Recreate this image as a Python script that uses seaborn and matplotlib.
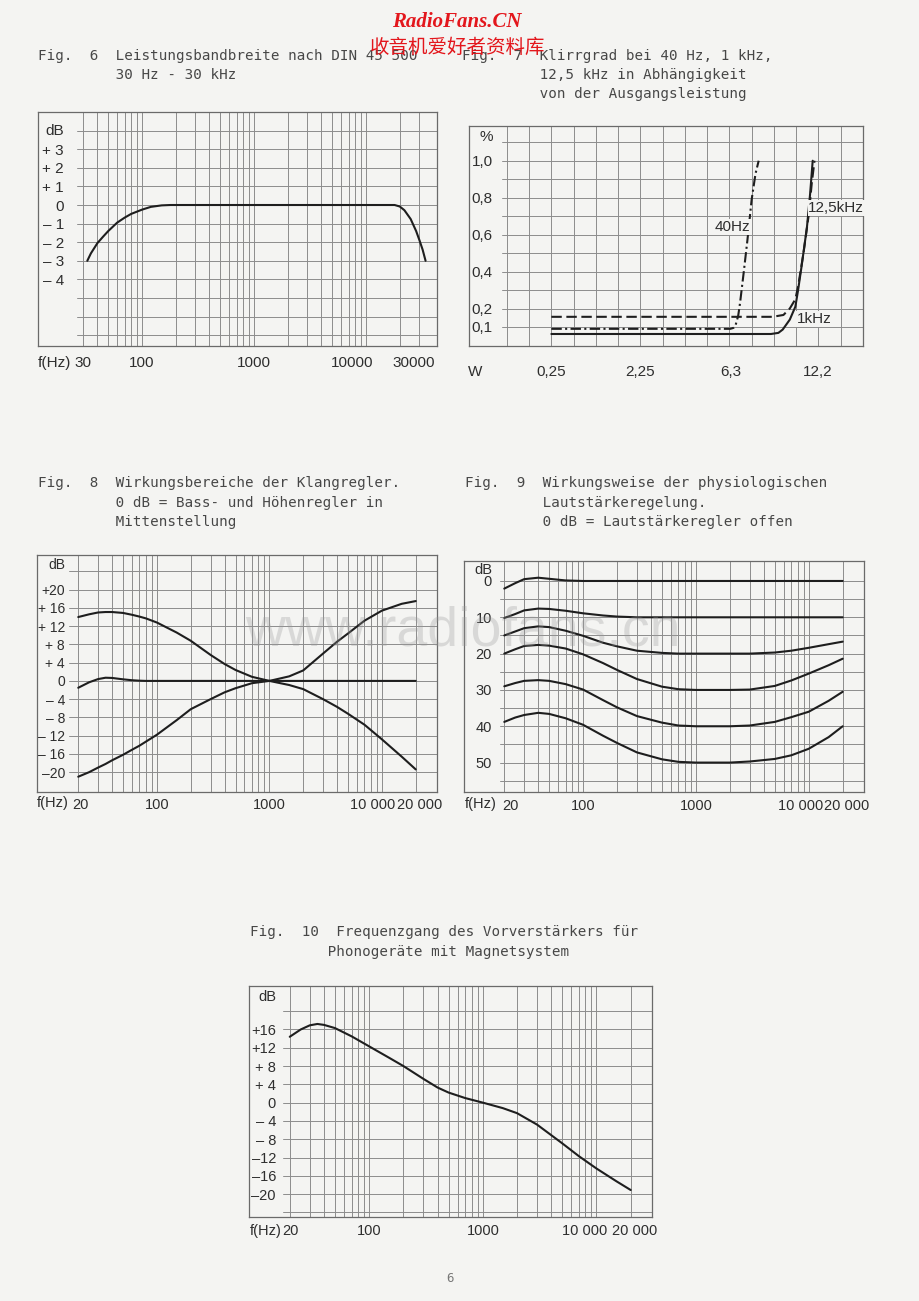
import numpy as np
import pandas as pd
import matplotlib
matplotlib.use("Agg")
import matplotlib.pyplot as plt
import matplotlib.transforms as mtrans
from matplotlib.ticker import NullLocator
import seaborn as sns

sns.set_style("white")
plt.rcParams['font.family'] = ['Liberation Sans', 'DejaVu Sans']

# ------------------------------------------------------------------ data
# Fig. 6 – power bandwidth
f6_hz = [32.5, 35, 40, 45, 50, 60, 70, 80, 100, 120, 150, 180, 1000, 10000,
         18000, 20000, 22000, 25000, 28000, 30000, 32000, 34000]
f6_db = [-3.0, -2.6, -2.05, -1.7, -1.4, -0.95, -0.68, -0.48, -0.25, -0.1, -0.02, 0.0, 0.0, 0.0,
         0.0, -0.08, -0.28, -0.75, -1.4, -1.9, -2.4, -3.0]

# Fig. 7 – distortion vs output power (W, %)
f7_w_1k = [0.25, 8.8, 9.3, 9.6, 10.1, 10.5, 10.7, 10.96, 11.36, 11.6, 11.8]
f7_thd_1k = [0.062, 0.062, 0.068, 0.086, 0.14, 0.21, 0.30, 0.43, 0.64, 0.82, 1.0]
f7_w_12k = [0.25, 8.9, 9.65, 10.1, 10.5, 10.7, 11.1, 11.5, 11.73, 11.94]
f7_thd_12k = [0.155, 0.155, 0.165, 0.20, 0.25, 0.32, 0.50, 0.71, 0.88, 1.0]
f7_w_40 = [0.25, 6.3, 6.48, 6.6, 6.75, 6.86, 7.07, 7.3, 7.56, 7.8, 8.0]
f7_thd_40 = [0.09, 0.09, 0.095, 0.11, 0.16, 0.23, 0.39, 0.57, 0.79, 0.93, 1.0]
f7_xticks_w = [0.25, 2.25, 6.3, 12.2]
f7_xlabels = ["0,25", "2,25", "6,3", "12,2"]
f7_yticks = [0.1, 0.2, 0.4, 0.6, 0.8, 1.0]
f7_ylabels = ["0,1", "0,2", "0,4", "0,6", "0,8", "1,0"]

# Fig. 8 – tone control range
f8_hz = [20, 25, 30, 35, 40, 50, 60, 70, 80, 100, 150, 200, 300, 400, 500, 700,
         1000, 1500, 2000, 3000, 4000, 5000, 7000, 10000, 15000, 20000]
f8_boost_cut = [14.0, 14.6, 15.0, 15.1, 15.1, 14.9, 14.5, 14.1, 13.7, 12.8, 10.6, 8.8, 5.7, 3.7, 2.4, 0.9,
                0.0, -0.9, -1.8, -4.0, -5.7, -7.2, -9.6, -12.8, -16.6, -19.4]
f8_cut_boost = [-21.0, -20.0, -19.0, -18.2, -17.4, -16.2, -15.1, -14.2, -13.3, -11.8, -8.6, -6.2, -4.0, -2.5, -1.6, -0.5,
                0.0, 1.0, 2.3, 6.0, 8.6, 10.4, 13.2, 15.4, 16.9, 17.5]
f8_flat = [-1.5, -0.3, 0.4, 0.7, 0.65, 0.35, 0.15, 0.05, 0.0, 0.0, 0.0, 0.0, 0.0, 0.0, 0.0, 0.0,
           0.0, 0.0, 0.0, 0.0, 0.0, 0.0, 0.0, 0.0, 0.0, 0.0]

# Fig. 9 – loudness contour (attenuation in dB)
f9_hz = [20, 25, 30, 40, 50, 70, 100, 150, 200, 300, 500, 700, 1000, 2000, 3000, 5000, 7000, 10000, 15000, 20000]
f9_c0 = [2.1, 0.6, -0.5, -0.9, -0.6, -0.15, 0, 0, 0, 0, 0, 0, 0, 0, 0, 0, 0, 0, 0, 0]
f9_c10 = [10.2, 9.1, 8.1, 7.6, 7.7, 8.2, 8.9, 9.5, 9.8, 10, 10, 10, 10, 10, 10, 10, 10, 10, 10, 10]
f9_c20 = [15, 13.9, 13, 12.5, 12.7, 13.7, 15.1, 17.0, 18.0, 19.2, 19.8, 20, 20, 20, 20, 19.7, 19.2, 18.4, 17.4, 16.7]
f9_c30 = [20, 18.8, 17.9, 17.6, 17.8, 18.6, 20.2, 22.6, 24.5, 27.0, 29.1, 29.8, 30, 30, 29.9, 28.9, 27.4, 25.5, 23.2, 21.4]
f9_c40 = [29, 28.1, 27.5, 27.3, 27.5, 28.4, 29.9, 32.8, 34.8, 37.2, 39.0, 39.8, 40, 40, 39.8, 38.8, 37.5, 36.0, 33.0, 30.5]
f9_c50 = [38.8, 37.6, 36.9, 36.3, 36.6, 37.8, 39.6, 42.6, 44.6, 47.2, 49.1, 49.8, 50, 50, 49.7, 49.0, 48.0, 46.2, 43.0, 40.0]

# Fig. 10 – phono preamp response
f10_hz = [20, 25, 30, 35, 40, 50, 70, 100, 150, 200, 300, 400, 500, 700, 1000, 1500, 2000, 3000,
          5000, 7000, 10000, 15000, 20000]
f10_db = [14.4, 16.0, 16.9, 17.2, 17.0, 16.3, 14.5, 12.3, 9.8, 8.0, 5.2, 3.3, 2.2, 1.0, 0.0, -1.2, -2.3, -4.8,
          -8.9, -11.7, -14.4, -17.2, -19.1]

# ------------------------------------------------------------------ style
W, H = 920, 1301
PAPER = '#f4f4f2'
GRID = '#8c8c8c'
SPINE = '#6a6a6a'
INK = '#1e1e1e'
TXT = '#2e2e2e'
TITLE = '#474747'
MONO = 'DejaVu Sans Mono'

fig = plt.figure(figsize=(W / 100, H / 100), dpi=100, facecolor=PAPER)


def make_ax(x0, y0, x1, y1):
    ax = fig.add_axes([x0 / W, 1 - y1 / H, (x1 - x0) / W, (y1 - y0) / H])
    ax.set_facecolor('none')
    for s in ax.spines.values():
        s.set_color(SPINE)
        s.set_linewidth(0.9)
    return ax


def log_grid(lo, hi):
    vals = []
    for d in [10, 100, 1000, 10000]:
        for k in range(1, 10):
            v = k * d
            if lo <= v <= hi:
                vals.append(v)
    return vals


def decorate(ax, box, xgrid, ygrid, hstart_px, yticks, ylabels, label_right_px,
             xticks, xlabels, xpad, unit, unit_y, fhz=None, fhz_y=None,
             xsize=11, ysize=11, tlen=5):
    x0, y0, x1, y1 = box
    for v in xgrid:
        ax.axvline(v, color=GRID, lw=0.7, zorder=1)
    hs = (hstart_px - x0) / (x1 - x0)
    for v in ygrid:
        ax.axhline(v, xmin=hs, xmax=1, color=GRID, lw=0.7, zorder=1)
    ax.xaxis.set_minor_locator(NullLocator())
    ax.yaxis.set_minor_locator(NullLocator())
    ax.set_xticks(xticks, xlabels)
    ax.set_yticks(yticks, ylabels)
    ax.tick_params(axis='x', direction='out', length=tlen, width=0.8, color=GRID,
                   pad=xpad, labelsize=xsize, labelcolor=TXT)
    pad_pt = (label_right_px - x0) * 0.72
    ax.tick_params(axis='y', length=0, pad=-pad_pt, labelsize=ysize, labelcolor=TXT)
    for lab in ax.get_yticklabels():
        lab.set_horizontalalignment('right')
    ax.text((label_right_px - x0) / (x1 - x0), unit_y, unit, transform=ax.get_yaxis_transform(),
            ha='right', va='center', fontsize=ysize, color=TXT)
    if fhz is not None:
        fig.text(fhz / W, 1 - fhz_y / H, 'f(Hz)', ha='left', va='center', fontsize=xsize, color=TXT)


def shift_xlabels(ax, shifts):
    labs = ax.get_xticklabels()
    for i, dx in shifts.items():
        labs[i].set_transform(labs[i].get_transform() +
                              mtrans.ScaledTranslation(dx / 100, 0, fig.dpi_scale_trans))


def curve(ax, x, y, lw=1.5):
    df = pd.DataFrame({'x': x, 'y': y})
    sns.lineplot(data=df, x='x', y='y', ax=ax, sort=False, estimator=None,
                 color=INK, lw=lw, zorder=3)
    ax.set_xlabel('')
    ax.set_ylabel('')
    return ax.lines[-1]


def title(x, y, lines, step=19.2):
    for i, t in enumerate(lines):
        fig.text(x / W, 1 - (y + i * step) / H, t, ha='left', va='center',
                 fontsize=10.3, family=MONO, color=TITLE)


# ------------------------------------------------------------------ Fig 6
box6 = (38, 112, 437, 346)
ax6 = make_ax(*box6)
ax6.set_xscale('log')
curve(ax6, f6_hz, f6_db)
ax6.set_xlim(11.8, 43000)
ax6.set_ylim(-7.58, 5.0)
decorate(ax6, box6, log_grid(30, 30000), list(range(-7, 5)), 77,
         [3, 2, 1, 0, -1, -2, -3, -4], ['+ 3', '+ 2', '+ 1', '0', '– 1', '– 2', '– 3', '– 4'], 64,
         [30, 100, 1000, 10000, 30000], ['30', '100', '1000', '10000', '30000'], 2.2,
         'dB', 4.0, fhz=38, fhz_y=363)
shift_xlabels(ax6, {3: -14, 4: -6})
title(38, 55.7, ['Fig.  6  Leistungsbandbreite nach DIN 45 500',
                 '         30 Hz - 30 kHz'])

# ------------------------------------------------------------------ Fig 7
box7 = (469, 126, 863, 346)
ax7 = make_ax(*box7)
l1 = curve(ax7, np.sqrt(f7_w_1k), f7_thd_1k)
l2 = curve(ax7, np.sqrt(f7_w_12k), f7_thd_12k)
l2.set_dashes([5.0, 2.2])
l3 = curve(ax7, np.sqrt(f7_w_40), f7_thd_40)
l3.set_dashes([5.0, 1.6, 1.0, 1.6])
ax7.set_xlim(-0.425, 4.0)
ax7.set_ylim(-0.003, 1.188)
decorate(ax7, box7, list(np.arange(0, 4.0, 0.25)), list(np.arange(0.1, 1.15, 0.1)), 502,
         f7_yticks, f7_ylabels, 493,
         list(np.sqrt(f7_xticks_w)), f7_xlabels, 9,
         '%', 1.13)
fig.text(475 / W, 1 - 372 / H, 'W', ha='center', va='center', fontsize=11, color=TXT)
ax7.text(2.53, 0.64, '40Hz', ha='center', va='center', fontsize=11, color=TXT,
         bbox=dict(facecolor=PAPER, edgecolor='none', pad=0.5))
ax7.text(3.70, 0.744, '12,5kHz', ha='center', va='center', fontsize=11, color=TXT,
         bbox=dict(facecolor=PAPER, edgecolor='none', pad=0.5))
ax7.text(3.45, 0.143, '1kHz', ha='center', va='center', fontsize=11, color=TXT,
         bbox=dict(facecolor=PAPER, edgecolor='none', pad=0.5))
title(461.6, 55.7, ['Fig.  7  Klirrgrad bei 40 Hz, 1 kHz,',
                    '         12,5 kHz in Abhängigkeit',
                    '         von der Ausgangsleistung'])

# ------------------------------------------------------------------ Fig 8
box8 = (37, 555, 437, 792)
ax8 = make_ax(*box8)
ax8.set_xscale('log')
curve(ax8, f8_hz, f8_boost_cut)
curve(ax8, f8_hz, f8_cut_boost)
curve(ax8, f8_hz, f8_flat)
ax8.set_xlim(8.6, 30900)
ax8.set_ylim(-24.35, 27.6)
decorate(ax8, box8, log_grid(20, 20000), list(range(-20, 25, 4)), 69,
         list(range(20, -21, -4)),
         ['+20', '+ 16', '+ 12', '+ 8', '+ 4', '0', '– 4', '– 8', '– 12', '– 16', '–20'], 65,
         [20, 100, 1000, 10000, 20000], ['20', '100', '1000', '10 000', '20 000'], 0.3,
         'dB', 25.3, fhz=37, fhz_y=803, xsize=10.5, ysize=10, tlen=4)
shift_xlabels(ax8, {0: 2, 3: -9, 4: 4})
title(38, 483.3, ['Fig.  8  Wirkungsbereiche der Klangregler.',
                  '         0 dB = Bass- und Höhenregler in',
                  '         Mittenstellung'])

# ------------------------------------------------------------------ Fig 9
box9 = (464, 561, 864, 792)
ax9 = make_ax(*box9)
ax9.set_xscale('log')
for c in [f9_c0, f9_c10, f9_c20, f9_c30, f9_c40, f9_c50]:
    curve(ax9, f9_hz, c)
ax9.set_xlim(8.79, 30900)
ax9.set_ylim(58.1, -5.5)
decorate(ax9, box9, log_grid(20, 20000), list(range(0, 56, 5)), 500,
         [0, 10, 20, 30, 40, 50], ['0', '10', '20', '30', '40', '50'], 492,
         [20, 100, 1000, 10000, 20000], ['20', '100', '1000', '10 000', '20 000'], 0.8,
         'dB', -2.9, fhz=465, fhz_y=804, xsize=10.5, ysize=10.5, tlen=4)
shift_xlabels(ax9, {0: 6, 3: -8, 4: 4})
title(465, 483.3, ['Fig.  9  Wirkungsweise der physiologischen',
                   '         Lautstärkeregelung.',
                   '         0 dB = Lautstärkeregler offen'])

# ------------------------------------------------------------------ Fig 10
box10 = (249, 986, 652, 1217)
ax10 = make_ax(*box10)
ax10.set_xscale('log')
curve(ax10, f10_hz, f10_db)
ax10.set_xlim(8.76, 30800)
ax10.set_ylim(-25.0, 25.5)
decorate(ax10, box10, log_grid(20, 20000), list(range(-24, 21, 4)), 283,
         list(range(16, -21, -4)),
         ['+16', '+12', '+ 8', '+ 4', '0', '– 4', '– 8', '–12', '–16', '–20'], 276,
         [20, 100, 1000, 10000, 20000], ['20', '100', '1000', '10 000', '20 000'], 1.2,
         'dB', 23.2, fhz=250, fhz_y=1231, xsize=10.5, ysize=10.5, tlen=4)
shift_xlabels(ax10, {0: 1, 3: -12, 4: 4})
title(250, 932.3, ['Fig.  10  Frequenzgang des Vorverstärkers für',
                   '         Phonogeräte mit Magnetsystem'], step=20)

# ------------------------------------------------------------------ page decorations
fig.text(457 / W, 1 - 22 / H, 'RadioFans.CN', ha='center', va='center', fontsize=15,
         family='Liberation Serif', style='italic', weight='bold', color='#e3161c')
fig.text(458 / W, 1 - 47 / H, '收音机爱好者资料库', ha='center', va='center', fontsize=14,
         family=['Noto Sans CJK SC', 'DejaVu Sans'], color='#e3161c')
fig.text(463 / W, 1 - 632 / H, 'www.radiofans.cn', ha='center', va='center', fontsize=40,
         family='Liberation Sans', color='#9a9a9a', alpha=0.3)
fig.text(450 / W, 1 - 1278 / H, '6', ha='center', va='center', fontsize=9,
         family=MONO, color='#777777')

fig.savefig('out.png', dpi=100, facecolor=PAPER)
